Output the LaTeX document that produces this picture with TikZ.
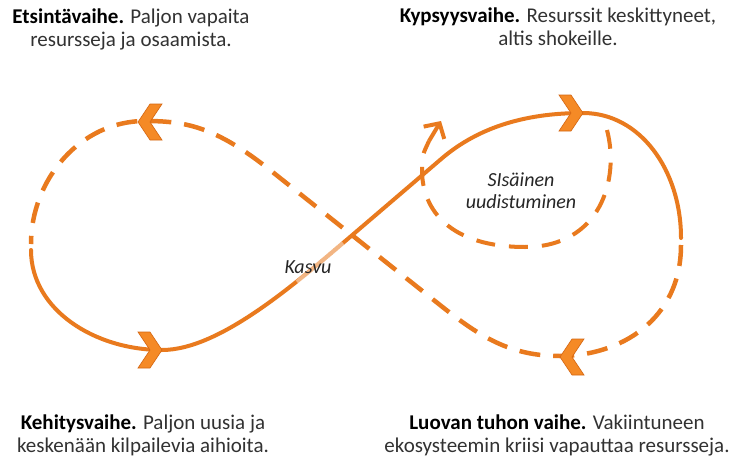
\documentclass[tikz,border=0pt]{standalone}
\usepackage{fontspec}
\setmainfont{Carlito}
\usetikzlibrary{arrows.meta}
\definecolor{orln}{RGB}{233,122,30}
\definecolor{chevfill}{RGB}{245,138,38}
\definecolor{chevedge}{RGB}{212,102,18}
\definecolor{txt}{RGB}{50,50,50}
\tikzset{
  solidline/.style={draw=orln, line width=4pt, line cap=round},
  dashline/.style={draw=orln, line width=4.5pt, dash pattern=on 21pt off 13pt},
  chev/.pic={\fill[chevfill, draw=chevedge, line width=0.6pt, line join=miter]
     (0,0) -- (-12,-18) -- (-24,-18) -- (-12,0) -- (-24,18) -- (-12,18) -- cycle;},
  lbl/.style={font=\fontsize{21}{23}\selectfont, text=txt, align=center, inner sep=0pt},
  ital/.style={font=\fontsize{20}{22}\selectfont\itshape, text=black!85, align=center, inner sep=0pt}
}
\begin{document}
\begin{tikzpicture}[x=1pt,y=-1pt]
\fill[white] (0,0) rectangle (736,463);
\useasboundingbox (0,0) rectangle (736,463);
% key points
\coordinate (sstart) at (31,250);
\coordinate (lbot) at (162,350);
\coordinate (cross) at (350,237);
\coordinate (rise) at (440,160);
\coordinate (rtop) at (583,113);
\coordinate (send) at (681,238);
\coordinate (dstart) at (681,245);
\coordinate (rbot) at (560,356);
\coordinate (fall) at (440,305);
\coordinate (ltopr) at (270,170);
\coordinate (ltop) at (145,121);
\coordinate (dend) at (31,244);
% solid half of the loop
\draw[solidline] (sstart) .. controls (31,310) and (95,350) .. (lbot)
   .. controls (220,350) and (296.7,282.4) .. (cross) -- (rise)
   .. controls (480,125) and (530,113) .. (rtop)
   .. controls (640,113) and (681,170) .. (send);
\draw[white, line width=4.2pt, opacity=0.45] (297,282) -- (343,243);
% dashed half of the loop
\draw[dashline] (dstart) .. controls (681,320) and (620,356) .. (rbot)
   .. controls (510,356) and (480,336.8) .. (fall) -- (ltopr)
   .. controls (215,126.3) and (185,121) .. (ltop)
   .. controls (80,121) and (31,180) .. (dend);
% inner renewal loop
\coordinate (istart) at (607,130);
\coordinate (ibot) at (525,247);
\coordinate (ileft) at (422,170);
\coordinate (iend) at (429,141);
\coordinate (itip) at (441,121);
\draw[dashline, line width=4pt, dash pattern=on 19pt off 14pt]
   (istart) .. controls (620,180) and (600,247) .. (ibot)
   .. controls (450,247) and (422,210) .. (ileft)
   .. controls (422,156) .. (iend);
\draw[draw=orln, line width=4pt, -{Straight Barb[length=11pt,width=24pt]}] (iend) -- (itip);
% chevrons
\pic[rotate=180] at (138,122) {chev};
\pic at (583,113) {chev};
\pic at (162,350) {chev};
\pic[rotate=180] at (560,357) {chev};
% labels
\node[lbl, anchor=north] (tl) at (131,9) {\textbf{\color{black}Etsintävaihe.} Paljon vapaita\\resursseja ja osaamista.};
\node[lbl, anchor=north] (tr) at (558,8) {\textbf{\color{black}Kypsyysvaihe.} Resurssit keskittyneet,\\altis shokeille.};
\node[lbl, anchor=north] (bl) at (143,415) {\textbf{\color{black}Kehitysvaihe.} Paljon uusia ja\\keskenään kilpailevia aihioita.};
\node[lbl, anchor=north] (br) at (557,415) {\textbf{\color{black}Luovan tuhon vaihe.} Vakiintuneen\\ekosysteemin kriisi vapauttaa resursseja.};
\node[ital] (kasvu) at (308,267) {Kasvu};
\node[ital] (sis) at (521,191) {SIsäinen\\uudistuminen};
\end{tikzpicture}
\end{document}
